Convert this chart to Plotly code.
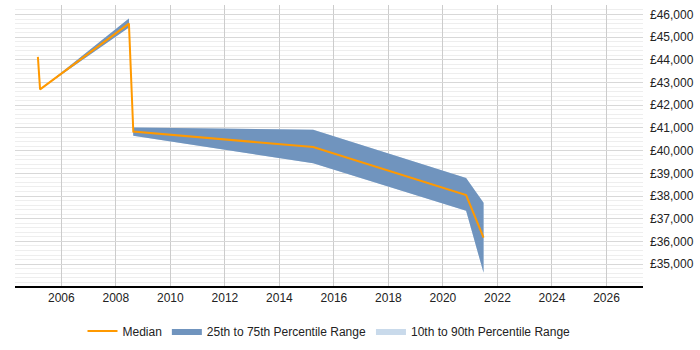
import plotly.graph_objects as go

years = [2005.14, 2005.22, 2008.48, 2008.64, 2015.24, 2020.85, 2021.49]
median = [44130, 42700, 45600, 40840, 40160, 38040, 36170]
p25 = [44130, 42700, 45430, 40660, 39440, 37350, 34620]
p75 = [44130, 42700, 45820, 41020, 40920, 38790, 37710]
p10 = p25
p90 = p75

x_ticks = list(range(2006, 2027, 2))
y_ticks = list(range(35000, 46001, 1000))

fig = go.Figure()

fig.add_trace(go.Scatter(
    x=years + years[::-1], y=p90 + p10[::-1],
    fill="toself", fillcolor="#c9daeb", line=dict(width=0),
    mode="lines", name="10th to 90th Percentile Range", hoverinfo="skip"))
fig.add_trace(go.Scatter(
    x=years + years[::-1], y=p75 + p25[::-1],
    fill="toself", fillcolor="#7094be", line=dict(width=0),
    mode="lines", name="25th to 75th Percentile Range", hoverinfo="skip"))
fig.add_trace(go.Scatter(
    x=years, y=median, mode="lines", name="Median",
    line=dict(color="#ff9900", width=2)))

fig.update_layout(
    width=700, height=350,
    margin=dict(l=15, r=57, t=5, b=58),
    paper_bgcolor="white", plot_bgcolor="white",
    font=dict(family="Liberation Sans, Arial, sans-serif", size=12, color="#222"),
    showlegend=True,
    legend=dict(orientation="h", x=0.5, xanchor="center", y=-0.16, yanchor="middle",
                traceorder="reversed", font=dict(size=12, color="#222"),
                itemwidth=30),
    xaxis=dict(range=[2004.30, 2027.34], tickvals=x_ticks,
               ticktext=[str(v) for v in x_ticks],
               showgrid=True, gridcolor="#cccccc", gridwidth=1,
               showline=True, linecolor="#000", linewidth=1.5,
               zeroline=False, ticks=""),
    yaxis=dict(range=[34036, 46419], side="right", tickvals=y_ticks,
               ticktext=["£{:,}".format(v) for v in y_ticks],
               showgrid=True, gridcolor="#d8d8d8", gridwidth=1,
               minor=dict(dtick=200, tick0=35000, showgrid=True, gridcolor="#eeeeee", gridwidth=1),
               zeroline=False, showline=False, ticks="", ticklen=0,
               ticklabelstandoff=6),
)

fig.write_html("out.html")
